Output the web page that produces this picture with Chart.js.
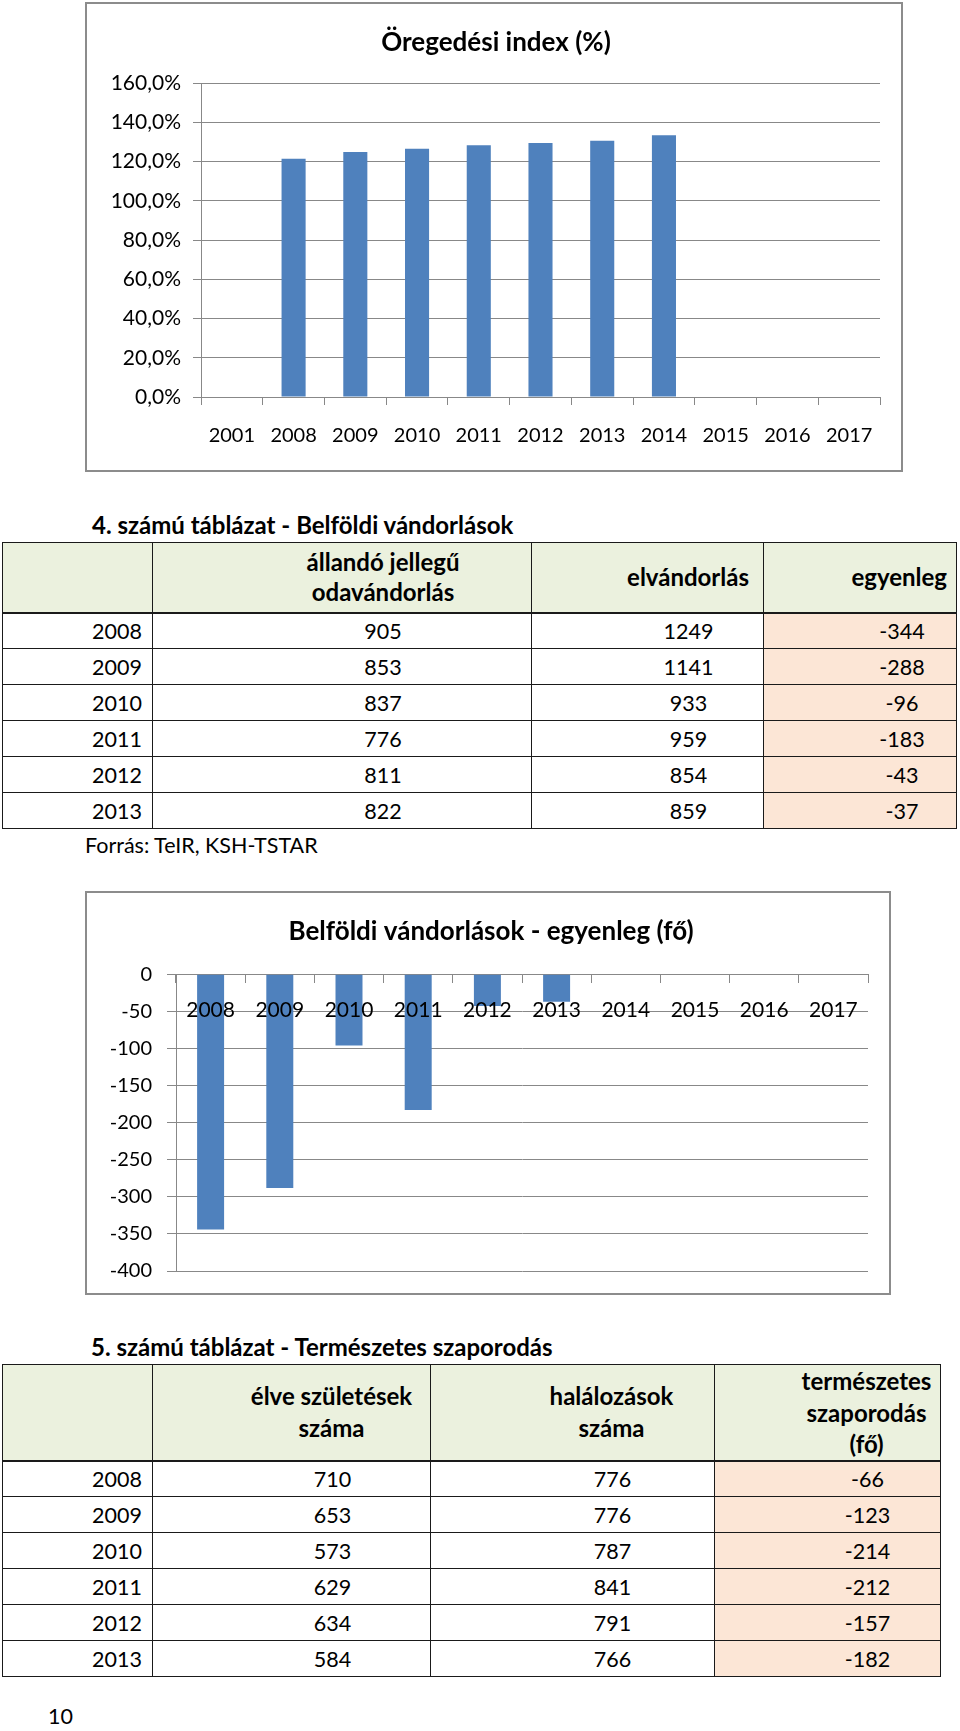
<!DOCTYPE html>
<html lang="hu">
<head>
<meta charset="utf-8">
<script src="https://cdn.jsdelivr.net/npm/chart.js@4.4.1/dist/chart.umd.min.js"></script>
<style>
html,body{margin:0;padding:0;background:#fff;}
body{width:960px;height:1731px;position:relative;overflow:hidden;font-family:Lato,'Open Sans',sans-serif;color:#000;}
.box{position:absolute;border:2px solid #8c8c8c;box-sizing:border-box;background:#fff;}
.box canvas{display:block;}
.cap{position:absolute;font-weight:bold;font-size:24px;line-height:28px;white-space:nowrap;}
.note{position:absolute;font-size:21.5px;line-height:26px;white-space:nowrap;}
table{position:absolute;border-collapse:collapse;table-layout:fixed;font-size:21.5px;}
td,th{border:1px solid #1a1a1a;padding:0;vertical-align:middle;white-space:nowrap;box-sizing:border-box;}
th{background:#EBF1DE;font-weight:bold;font-size:24px;line-height:30px;}
thead tr th{border-bottom:2px solid #1a1a1a;}
td.peach{background:#FCE6D6;}
</style>
</head>
<body>
<div class="box" id="box1" style="left:85px;top:2px;width:818px;height:470px;"><canvas id="c1" width="814" height="466"></canvas></div>

<div class="cap" style="left:92px;top:511px;">4. számú táblázat - Belföldi vándorlások</div>
<table id="t4" style="left:2px;top:542px;width:954px;"></table>
<div class="note" style="left:85px;top:832px;">Forrás: TeIR, KSH-TSTAR</div>

<div class="box" id="box2" style="left:85px;top:891px;width:806px;height:404px;"><canvas id="c2" width="802" height="400"></canvas></div>

<div class="cap" style="left:91px;top:1333px;">5. számú táblázat - Természetes szaporodás</div>
<table id="t5" style="left:2px;top:1364px;width:938px;"></table>
<div class="note" style="left:48px;top:1703px;">10</div>

<script>
// ---- Chart 1: Öregedési index (%)
const agingYears = ['2001','2008','2009','2010','2011','2012','2013','2014','2015','2016','2017'];
const agingIndex = [null,121.5,124.9,126.6,128.3,129.5,130.6,133.4,null,null,null];
const agingTickLabels = ['0,0%','20,0%','40,0%','60,0%','80,0%','100,0%','120,0%','140,0%','160,0%'];

// ---- Chart 2: Belföldi vándorlások - egyenleg (fő)
const balanceYears = ['2008','2009','2010','2011','2012','2013','2014','2015','2016','2017'];
const balanceValues = [-344,-288,-96,-183,-43,-37,null,null,null,null];
const balanceTickLabels = ['-400','-350','-300','-250','-200','-150','-100','-50','0'];

// ---- Table 4: Belföldi vándorlások
const migHeaders = ['', 'állandó jellegű<br>odavándorlás', 'elvándorlás', 'egyenleg'];
const migYears = ['2008','2009','2010','2011','2012','2013'];
const migIn = [905,853,837,776,811,822];
const migOut = [1249,1141,933,959,854,859];
const migBalance = [-344,-288,-96,-183,-43,-37];

// ---- Table 5: Természetes szaporodás
const natHeaders = ['', 'élve születések<br>száma', 'halálozások<br>száma', 'természetes<br>szaporodás<br>(fő)'];
const natYears = ['2008','2009','2010','2011','2012','2013'];
const natBirths = [710,653,573,629,634,584];
const natDeaths = [776,776,787,841,791,766];
const natIncrease = [-66,-123,-214,-212,-157,-182];

const BAR = '#4F81BD';
const GRID = '#888888';
Chart.defaults.font.family = 'Lato, "Open Sans", sans-serif';
Chart.defaults.color = '#000';

// an empty right-hand axis that only reserves space, so the title stays centred on the whole box
function spacerAxis(w) {
  return { type: 'linear', position: 'right', display: true,
    grid: { display: false }, border: { display: false }, ticks: { display: false },
    afterFit(s) { s.width = w; } };
}

new Chart(document.getElementById('c1'), {
  type: 'bar',
  data: { labels: agingYears, datasets: [{ data: agingIndex, backgroundColor: BAR, barPercentage: 0.39, categoryPercentage: 1 }] },
  options: {
    responsive: false, animation: false, events: [],
    layout: { padding: { left: 4, right: 0, top: 0, bottom: 0 } },
    plugins: {
      legend: { display: false }, tooltip: { enabled: false },
      title: { display: true, text: 'Öregedési index (%)', color: '#000',
        font: { size: 26, weight: 'bold', lineHeight: 1.2 }, padding: { top: 23, bottom: 25 } }
    },
    scales: {
      x: {
        grid: { drawOnChartArea: false, tickLength: 8, color: GRID, offset: true },
        border: { color: GRID },
        ticks: { color: '#000', font: { size: 20 }, padding: 19, maxRotation: 0, autoSkip: false },
        afterFit(s) { s.height = 73; }
      },
      y: {
        min: 0, max: 160,
        ticks: { stepSize: 20, color: '#000', font: { size: 21 }, padding: 12, callback: (v, i) => agingTickLabels[i] },
        grid: { color: GRID, tickLength: 8 },
        border: { color: GRID },
        afterFit(s) { s.width = 110; s.paddingTop = 0; s.paddingBottom = 0; }
      },
      yr: spacerAxis(21)
    }
  }
});

new Chart(document.getElementById('c2'), {
  type: 'bar',
  data: { labels: balanceYears, datasets: [{ data: balanceValues, backgroundColor: BAR, barPercentage: 0.39, categoryPercentage: 1 }] },
  options: {
    responsive: false, animation: false, events: [],
    layout: { padding: { left: 6, right: 0, top: 0, bottom: 22 } },
    plugins: {
      legend: { display: false }, tooltip: { enabled: false },
      title: { display: true, text: 'Belföldi vándorlások - egyenleg (fő)', color: '#000',
        font: { size: 26, weight: 'bold', lineHeight: 1.2 }, padding: { top: 23, bottom: 27 } }
    },
    scales: {
      x: {
        position: { y: 0 },
        grid: { drawOnChartArea: false, tickLength: 8, color: GRID, offset: true },
        border: { color: GRID },
        ticks: { z: 1, color: '#000', font: { size: 21 }, padding: 15, maxRotation: 0, autoSkip: false }
      },
      y: {
        min: -400, max: 0,
        ticks: { stepSize: 50, color: '#000', font: { size: 20 }, padding: 15, callback: (v, i) => balanceTickLabels[i] },
        grid: { color: GRID, tickLength: 9 },
        border: { color: GRID },
        afterFit(s) { s.width = 83; s.paddingTop = 0; s.paddingBottom = 0; }
      },
      yr: spacerAxis(21)
    }
  }
});

function buildTable(id, widths, headers, headerStyles, headH, cols, cellStyles, rowH) {
  const t = document.getElementById(id);
  const cg = document.createElement('colgroup');
  widths.forEach(w => { const c = document.createElement('col'); c.style.width = w + 'px'; cg.appendChild(c); });
  t.appendChild(cg);
  const th = document.createElement('thead');
  const hr = document.createElement('tr');
  hr.style.height = headH + 'px';
  headers.forEach((h, i) => {
    const c = document.createElement('th');
    c.innerHTML = h;
    c.setAttribute('style', headerStyles[i]);
    hr.appendChild(c);
  });
  th.appendChild(hr); t.appendChild(th);
  const tb = document.createElement('tbody');
  for (let r = 0; r < cols[0].length; r++) {
    const tr = document.createElement('tr');
    tr.style.height = rowH + 'px';
    cols.forEach((col, i) => {
      const c = document.createElement('td');
      c.textContent = col[r];
      c.setAttribute('style', cellStyles[i]);
      if (i === cols.length - 1) c.className = 'peach';
      tr.appendChild(c);
    });
    tb.appendChild(tr);
  }
  t.appendChild(tb);
}

buildTable('t4', [150, 379, 232, 193], migHeaders,
  ['', 'text-align:center;padding-left:82px;', 'text-align:right;padding-right:14px;', 'text-align:right;padding-right:9px;'],
  70,
  [migYears, migIn, migOut, migBalance],
  ['text-align:right;padding-right:10px;', 'text-align:center;padding-left:82px;', 'text-align:center;padding-left:82px;', 'text-align:center;padding-left:84px;'],
  36);

buildTable('t5', [150, 278, 284, 226], natHeaders,
  ['', 'text-align:center;padding-left:80px;line-height:32px;', 'text-align:center;padding-left:78px;line-height:32px;', 'text-align:center;padding-left:78px;line-height:31.5px;'],
  94,
  [natYears, natBirths, natDeaths, natIncrease],
  ['text-align:right;padding-right:10px;', 'text-align:center;padding-left:82px;', 'text-align:center;padding-left:80px;', 'text-align:center;padding-left:80px;'],
  36);
</script>
</body>
</html>
